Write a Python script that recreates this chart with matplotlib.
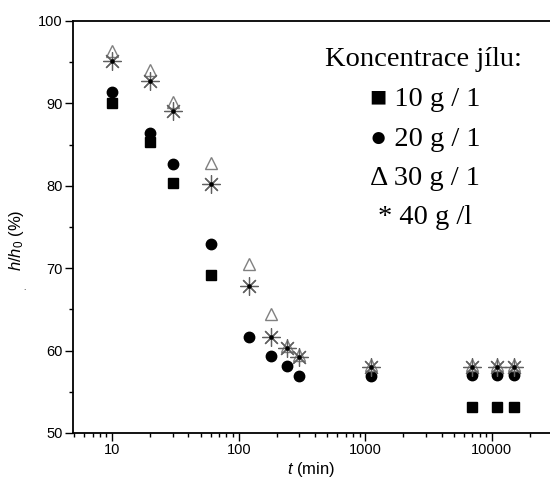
import matplotlib.pyplot as plt
import numpy as np
from matplotlib.ticker import FixedLocator, NullFormatter

# time (min) and relative height h/h0 (%) for each clay concentration
t_10 = [10, 20, 30, 60, 7000, 11000, 15000]
h_10 = [90.1, 85.3, 80.3, 69.2, 53.2, 53.2, 53.2]

t_all = [10, 20, 30, 60, 120, 180, 240, 300, 1100, 7000, 11000, 15000]
h_20 = [91.4, 86.4, 82.7, 72.9, 61.7, 59.3, 58.1, 56.9, 56.9, 57.0, 57.0, 57.0]
h_30 = [96.4, 94.0, 90.2, 82.8, 70.5, 64.5, 60.6, 59.5, 58.3, 58.3, 58.3, 58.3]
h_40 = [95.1, 92.7, 89.1, 80.2, 67.9, 61.7, 60.3, 59.2, 58.0, 58.0, 58.0, 58.0]

legend_lines = ["Koncentrace jílu:", "\u25a0 10 g / 1", "\u25cf 20 g / 1",
                "\u0394 30 g / 1", "* 40 g /l"]

plt.rcParams['font.family'] = ['Liberation Sans', 'DejaVu Sans']
plt.rcParams['mathtext.fontset'] = 'custom'
plt.rcParams['mathtext.rm'] = 'Liberation Sans'
plt.rcParams['mathtext.it'] = 'Liberation Sans:italic'

fig = plt.figure(figsize=(5.5, 4.88), dpi=100)
ax = fig.add_axes([73 / 550, 1 - 433 / 488, 1 - 73 / 550, (433 - 21) / 488])

ax.plot(t_10, h_10, ls="none", marker="s", ms=7, color="black")
ax.plot(t_all, h_20, ls="none", marker="o", ms=7.5, color="black")
ax.plot(t_all, h_30, ls="none", marker="^", ms=9, mfc="white", mec="#808080", mew=1.0)
ax.plot(t_all, h_40, ls="none", marker=(8, 2, 0), ms=13, color="#606060", mew=0.9)
ax.plot(t_all, h_40, ls="none", marker="o", ms=2.2, color="black")

ax.set_xscale("log")
ax.set_xlim(4.9, 28800)
ax.set_ylim(50, 100)
ax.set_yticks([50, 60, 70, 80, 90, 100])
ax.yaxis.set_minor_locator(FixedLocator([55, 65, 75, 85, 95]))
ax.set_xticks([10, 100, 1000, 10000])
ax.set_xticklabels(["10", "100", "1000", "10000"])
ax.xaxis.set_minor_formatter(NullFormatter())

ax.spines["right"].set_visible(False)
for s in ["left", "top", "bottom"]:
    ax.spines[s].set_linewidth(1.3)
ax.tick_params(which="major", direction="out", length=5.5, width=1.0, labelsize=10.5, pad=2)
ax.tick_params(which="minor", direction="out", length=3, width=1.0)

ax.set_xlabel("$t$ (min)", fontsize=12, labelpad=2)
fig.text(17 / 550, 1 - 240 / 488, "$h/h_0$ (%)", rotation=90, ha="center", va="center", fontsize=12)
fig.text(24 / 550, 1 - 288 / 488, ".", fontsize=6, ha="center", va="center")

for i, line in enumerate(legend_lines):
    x = 423 if i == 0 else 425
    fig.text(x / 550, 1 - (60 + 39.5 * i) / 488, line, ha="center", va="center",
             fontsize=20.5, family=["Liberation Serif", "DejaVu Serif"])

fig.savefig("out.png", dpi=100)
